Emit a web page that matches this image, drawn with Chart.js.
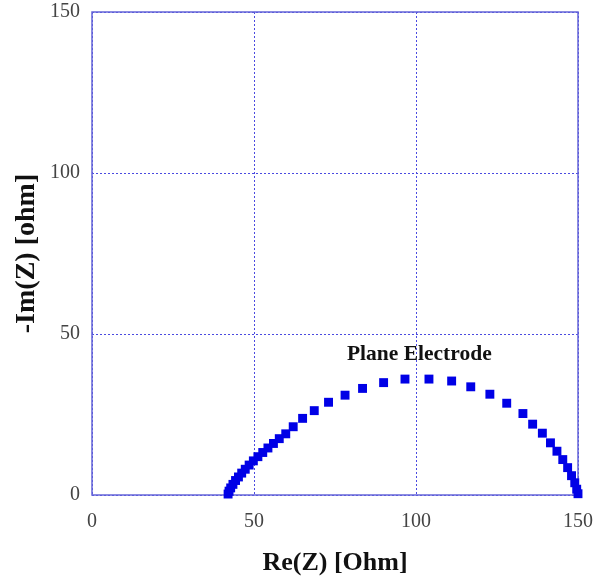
<!DOCTYPE html>
<html><head><meta charset="utf-8">
<script src="https://cdn.jsdelivr.net/npm/chart.js@4"></script>
<style>html,body{margin:0;padding:0;background:#fff}#wrap{width:596px;height:584px}</style>
</head><body><div id="wrap"><canvas id="c" width="596" height="584"></canvas></div>
<script>
const reZ = [42.0,42.3,42.8,43.5,44.3,45.2,46.2,47.3,48.5,49.8,51.2,52.7,54.3,56.0,57.8,59.8,62.1,65.0,68.6,73.0,78.1,83.5,90.0,96.6,104.0,111.0,116.9,122.8,128.0,133.0,136.0,139.0,141.5,143.5,145.3,146.8,148.0,149.0,149.6,150.0];
const imZ = [0.3,1.2,2.2,3.3,4.5,5.6,6.8,8.0,9.3,10.6,11.9,13.2,14.6,16.0,17.5,19.0,21.2,23.8,26.2,28.8,31.0,33.1,34.9,36.0,36.0,35.4,33.6,31.3,28.5,25.3,22.0,19.2,16.2,13.6,11.0,8.5,6.0,3.8,1.8,0.4];
const xTicks = [0,50,100,150];
const yTicks = [0,50,100,150];
const seriesLabel = 'Plane Electrode';
const xTitle = 'Re(Z) [Ohm]';
const yTitle = '-Im(Z) [ohm]';

const points = reZ.map((x,i)=>({x:x,y:imZ[i]}));
const lineCol = '#6464d8';
const gridCol = '#4a4ae0';
const serif = "'Liberation Serif','Times New Roman',serif";

const framePlugin = {
  id:'frame',
  beforeDatasetsDraw(chart){
    const {ctx, chartArea:a} = chart;
    ctx.save();
    ctx.strokeStyle = lineCol; ctx.lineWidth = 1.5;
    ctx.strokeRect(a.left, a.top, a.right-a.left, a.bottom-a.top);
    ctx.restore();
  },
  afterDatasetsDraw(chart){
    const {ctx, scales} = chart;
    ctx.save();
    ctx.font = "bold 21.5px " + serif;
    ctx.fillStyle = '#111';
    ctx.textBaseline = 'middle';
    ctx.fillText(seriesLabel, scales.x.getPixelForValue(78.7), scales.y.getPixelForValue(43.8));
    ctx.restore();
  }
};

new Chart(document.getElementById('c'), {
  type:'scatter',
  data:{datasets:[{
    label:seriesLabel, data:points,
    pointStyle:'rect', pointRadius:6.3, pointHoverRadius:6.3,
    backgroundColor:'#0000e6', borderColor:'#0000e6', borderWidth:0,
    clip:false
  }]},
  options:{
    responsive:false, animation:false,
    layout:{padding:{left:0,top:12,right:18,bottom:0}},
    plugins:{legend:{display:false}, tooltip:{enabled:false}},
    scales:{
      x:{type:'linear', min:0, max:150,
        afterBuildTicks:s=>{s.ticks = xTicks.map(v=>({value:v}));},
        afterFit:s=>{s.height = 89;},
        ticks:{padding:3, color:'#444', font:{family:serif,size:20}},
        grid:{color:gridCol, lineWidth:1, drawTicks:true, tickLength:12, tickColor:'rgba(0,0,0,0)'},
        border:{display:false, dash:[2,2]},
        title:{display:true, text:xTitle, color:'#111', font:{family:serif,size:26,weight:'bold'}, padding:{top:0,bottom:5}}
      },
      y:{type:'linear', min:0, max:150,
        afterBuildTicks:s=>{s.ticks = yTicks.map(v=>({value:v}));},
        afterFit:s=>{s.width = 92;},
        ticks:{padding:0, color:'#444', font:{family:serif,size:20}},
        grid:{color:gridCol, lineWidth:1, drawTicks:true, tickLength:12, tickColor:'rgba(0,0,0,0)'},
        border:{display:false, dash:[2,2]},
        title:{display:true, text:yTitle, color:'#111', font:{family:serif,size:28,weight:'bold'}, padding:{top:10,bottom:0}}
      }
    }
  },
  plugins:[framePlugin]
});
</script></body></html>
